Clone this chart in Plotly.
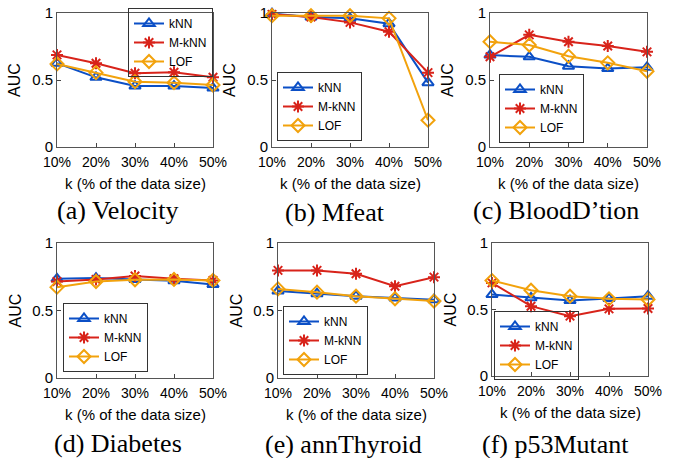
import plotly.graph_objects as go

W, H = 674, 458

k_pct = [10, 20, 30, 40, 50]
tick_labels = ["10%", "20%", "30%", "40%", "50%"]
series_names = ["kNN", "M-kNN", "LOF"]

velocity_knn = [0.625, 0.52, 0.455, 0.455, 0.44]
velocity_mknn = [0.6875, 0.625, 0.55, 0.5575, 0.52]
velocity_lof = [0.62, 0.555, 0.4875, 0.48, 0.4625]

mfeat_knn = [0.995, 0.97, 0.96, 0.92, 0.48]
mfeat_mknn = [0.99, 0.97, 0.93, 0.86, 0.555]
mfeat_lof = [0.98, 0.98, 0.98, 0.96, 0.2]

blood_knn = [0.686, 0.673, 0.603, 0.585, 0.595]
blood_mknn = [0.673, 0.837, 0.786, 0.754, 0.71]
blood_lof = [0.786, 0.761, 0.678, 0.628, 0.565]

diabetes_knn = [0.735, 0.74, 0.73, 0.72, 0.693]
diabetes_mknn = [0.715, 0.73, 0.755, 0.735, 0.723]
diabetes_lof = [0.673, 0.715, 0.728, 0.73, 0.723]

thyroid_knn = [0.644, 0.624, 0.606, 0.592, 0.58]
thyroid_mknn = [0.797, 0.797, 0.772, 0.68, 0.747]
thyroid_lof = [0.66, 0.636, 0.606, 0.587, 0.57]

p53_knn = [0.6125, 0.5875, 0.5675, 0.5825, 0.60]
p53_mknn = [0.70, 0.525, 0.45, 0.505, 0.5075]
p53_lof = [0.7175, 0.645, 0.60, 0.58, 0.575]

captions = ["(a) Velocity", "(b) Mfeat", "(c) BloodD\u2019tion",
            "(d) Diabetes", "(e) annThyroid", "(f) p53Mutant"]

panels = [
    (velocity_knn, velocity_mknn, velocity_lof),
    (mfeat_knn, mfeat_mknn, mfeat_lof),
    (blood_knn, blood_mknn, blood_lof),
    (diabetes_knn, diabetes_mknn, diabetes_lof),
    (thyroid_knn, thyroid_mknn, thyroid_lof),
    (p53_knn, p53_mknn, p53_lof),
]

# layout geometry (screen pixels)
boxes = [(57, 213, 13, 147), (272, 428, 13, 147), (490, 647, 13, 147),
         (57, 213, 243, 378), (278, 434, 243, 378), (492, 648, 243, 376)]
legend_pos = [(213, 8, "right"), (277, 72, "left"), (499, 74, "left"),
              (63, 303, "left"), (283, 306, "left"), (494, 311, "left")]
caption_pos = [(118, 210), (335, 212), (556, 210), (118, 443), (343, 444), (555, 444)]

colors = ["#0b4fc6", "#d8231a", "#f2a20c"]
symbols = ["triangle-up-open", "asterisk-open", "diamond-open"]

def px_x(p):
    return p / W

def px_y(p):
    return 1 - p / H

fig = go.Figure()
layout = dict(
    template="none",
    width=W, height=H, margin=dict(l=0, r=0, t=0, b=0, autoexpand=False),
    paper_bgcolor="white", plot_bgcolor="white", showlegend=True,
    font=dict(family="Liberation Sans, Arial, sans-serif", size=14, color="black"),
)
annotations = []

for i, (vals, box) in enumerate(zip(panels, boxes)):
    n = i + 1
    xa = "x" if n == 1 else f"x{n}"
    ya = "y" if n == 1 else f"y{n}"
    lg = "legend" if n == 1 else f"legend{n}"
    for j, (name, v) in enumerate(zip(series_names, vals)):
        fig.add_trace(go.Scatter(
            x=k_pct, y=v, name=name, mode="lines+markers",
            xaxis=xa, yaxis=ya, legend=lg, cliponaxis=False,
            line=dict(color=colors[j], width=2),
            marker=dict(symbol=symbols[j], size=10, color=colors[j],
                        line=dict(color=colors[j], width=2)),
        ))
    x0, x1, y0, y1 = box
    axkey_x = "xaxis" if n == 1 else f"xaxis{n}"
    axkey_y = "yaxis" if n == 1 else f"yaxis{n}"
    layout[axkey_x] = dict(
        domain=[px_x(x0), px_x(x1)], anchor=ya, range=[10, 50],
        tickvals=k_pct, ticktext=tick_labels, ticks="inside", ticklen=4,
        tickcolor="#444", showline=True, linecolor="#555", linewidth=1,
        mirror=True, showgrid=False, zeroline=False, fixedrange=True,
        tickfont=dict(size=14), ticklabelstandoff=2, automargin=False,
        ticklabeloverflow="allow",
    )
    layout[axkey_y] = dict(
        domain=[px_y(y1), px_y(y0)], anchor=xa, range=[0, 1],
        tickvals=[0, 0.5, 1], ticktext=["0", "0.5", "1"], ticks="inside",
        ticklen=4, tickcolor="#444", showline=True, linecolor="#555",
        linewidth=1, mirror=True, showgrid=False, zeroline=False,
        fixedrange=True, tickfont=dict(size=15), automargin=False,
        ticklabeloverflow="allow",
    )
    lx, ly, side = legend_pos[i]
    layout[lg] = dict(
        x=px_x(lx), y=px_y(ly),
        xanchor="left" if side == "left" else "right", yanchor="top",
        bgcolor="rgba(255,255,255,0)", bordercolor="#333", borderwidth=1,
        font=dict(size=12), tracegroupgap=0, itemwidth=30,
    )
    # axis titles
    annotations.append(dict(
        text="AUC", x=px_x(x0 - 42), y=px_y((y0 + y1) / 2), xref="paper", yref="paper",
        textangle=-90, showarrow=False, font=dict(size=16), xanchor="center", yanchor="middle",
    ))
    annotations.append(dict(
        text="k (% of the data size)", x=px_x((x0 + x1) / 2), y=px_y(y1 + 36),
        xref="paper", yref="paper", showarrow=False, font=dict(size=15),
        xanchor="center", yanchor="middle",
    ))
    cx, cy = caption_pos[i]
    annotations.append(dict(
        text=captions[i], x=px_x(cx), y=px_y(cy), xref="paper", yref="paper",
        showarrow=False, font=dict(family="Liberation Serif, Times New Roman, serif", size=26),
        xanchor="center", yanchor="middle",
    ))

layout["annotations"] = annotations
fig.update_layout(**layout)
fig.write_html("out.html", config={"displayModeBar": False},
               post_script="document.body.style.margin='0px';")
